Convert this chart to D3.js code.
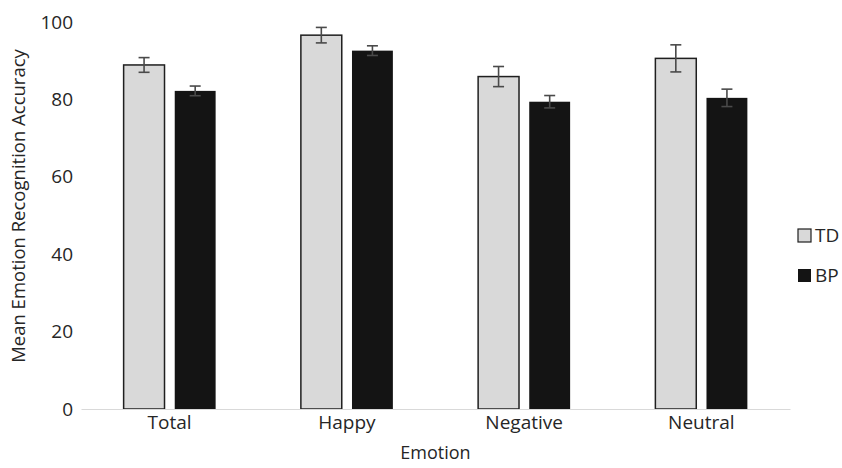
<!DOCTYPE html>
<html>
<head>
<meta charset="utf-8">
<script src="https://cdn.jsdelivr.net/npm/d3@7/dist/d3.min.js"></script>
<style>
  html, body { margin: 0; padding: 0; background: #fff; }
  svg text { font-family: "Open Sans", "Liberation Sans", sans-serif; fill: #262626; }
</style>
</head>
<body>
<svg id="chart" width="842" height="468"></svg>
<script>
// Emotion categories and group names
const categories = ["Total", "Happy", "Negative", "Neutral"];
const groups = ["TD", "BP"];

// Mean accuracy per category, one array per group
const tdMeans = [88.9, 96.6, 85.9, 90.6];
const bpMeans = [82.2, 92.6, 79.4, 80.4];

// Standard errors per category
const tdErrors = [1.9, 2.0, 2.6, 3.5];
const bpErrors = [1.25, 1.25, 1.6, 2.25];

const yTicks = [0, 20, 40, 60, 80, 100];

const fills = { TD: "#d9d9d9", BP: "#141414" };

const svg = d3.select("#chart");
const margin = { left: 81, right: 52, top: 22, bottom: 59 };
const W = 842, H = 468;
const tickFont = "19px";

const x0 = d3.scaleBand()
  .domain(categories)
  .range([margin.left, W - margin.right])
  .padding(0);

const half = 46;
const x1 = d3.scaleBand()
  .domain(groups)
  .range([x0.bandwidth() / 2 - half, x0.bandwidth() / 2 + half])
  .paddingInner(0.2);

const y = d3.scaleLinear()
  .domain([0, 100])
  .range([H - margin.bottom, margin.top]);

const rows = categories.map((c, i) => ({
  category: c,
  values: [
    { group: "TD", mean: tdMeans[i], err: tdErrors[i] },
    { group: "BP", mean: bpMeans[i], err: bpErrors[i] }
  ]
}));

// Y axis: labels only, no domain line or ticks
const yAxis = svg.append("g")
  .attr("transform", `translate(${margin.left},0)`)
  .call(d3.axisLeft(y).tickValues(yTicks).tickSize(0).tickPadding(8));
yAxis.select(".domain").remove();
yAxis.selectAll("text")
  .style("font-size", tickFont)
  .style("font-family", "'Open Sans', sans-serif")
  .attr("fill", "#262626");

// Bars
const groupSel = svg.append("g").selectAll("g")
  .data(rows)
  .join("g")
  .attr("transform", d => `translate(${x0(d.category)},0)`);

groupSel.selectAll("rect")
  .data(d => d.values)
  .join("rect")
  .attr("x", d => x1(d.group))
  .attr("width", x1.bandwidth())
  .attr("y", d => y(d.mean))
  .attr("height", d => y(0) - y(d.mean))
  .attr("fill", d => fills[d.group])
  .attr("stroke", d => d.group === "TD" ? "#1f1f1f" : "none")
  .attr("stroke-width", 1.5);

// Error bars
const cap = 5.5;
const eb = groupSel.selectAll("g.err")
  .data(d => d.values)
  .join("g")
  .attr("class", "err")
  .attr("stroke", "#4a4a4a")
  .attr("stroke-width", 1.6);
eb.append("line")
  .attr("x1", d => x1(d.group) + x1.bandwidth() / 2)
  .attr("x2", d => x1(d.group) + x1.bandwidth() / 2)
  .attr("y1", d => y(d.mean + d.err))
  .attr("y2", d => y(d.mean - d.err));
eb.append("line")
  .attr("x1", d => x1(d.group) + x1.bandwidth() / 2 - cap)
  .attr("x2", d => x1(d.group) + x1.bandwidth() / 2 + cap)
  .attr("y1", d => y(d.mean + d.err))
  .attr("y2", d => y(d.mean + d.err));
eb.append("line")
  .attr("x1", d => x1(d.group) + x1.bandwidth() / 2 - cap)
  .attr("x2", d => x1(d.group) + x1.bandwidth() / 2 + cap)
  .attr("y1", d => y(d.mean - d.err))
  .attr("y2", d => y(d.mean - d.err));

// X axis baseline and category labels
const xAxis = svg.append("g")
  .attr("transform", `translate(0,${y(0)})`)
  .call(d3.axisBottom(x0).tickSize(0).tickPadding(7));
xAxis.select(".domain").attr("stroke", "#d9d9d9").attr("stroke-width", 1.2);
xAxis.selectAll("text")
  .style("font-size", tickFont)
  .style("font-family", "'Open Sans', sans-serif")
  .attr("fill", "#262626");

// Axis titles
svg.append("text")
  .attr("x", (margin.left + W - margin.right) / 2)
  .attr("y", 459)
  .attr("text-anchor", "middle")
  .style("font-size", "18px")
  .text("Emotion");

svg.append("text")
  .attr("transform", "translate(25,206) rotate(-90)")
  .attr("text-anchor", "middle")
  .style("font-size", "18.5px")
  .text("Mean Emotion Recognition Accuracy");

// Legend
const legend = svg.append("g")
  .selectAll("g")
  .data(groups)
  .join("g")
  .attr("transform", (d, i) => `translate(798,${229 + i * 40})`);
legend.append("rect")
  .attr("width", 13)
  .attr("height", 13)
  .attr("fill", d => fills[d])
  .attr("stroke", d => d === "TD" ? "#1f1f1f" : "none")
  .attr("stroke-width", 1.2);
legend.append("text")
  .attr("x", 17)
  .attr("y", 6.5)
  .attr("dy", "0.35em")
  .style("font-size", "19px")
  .text(d => d);
</script>
</body>
</html>
